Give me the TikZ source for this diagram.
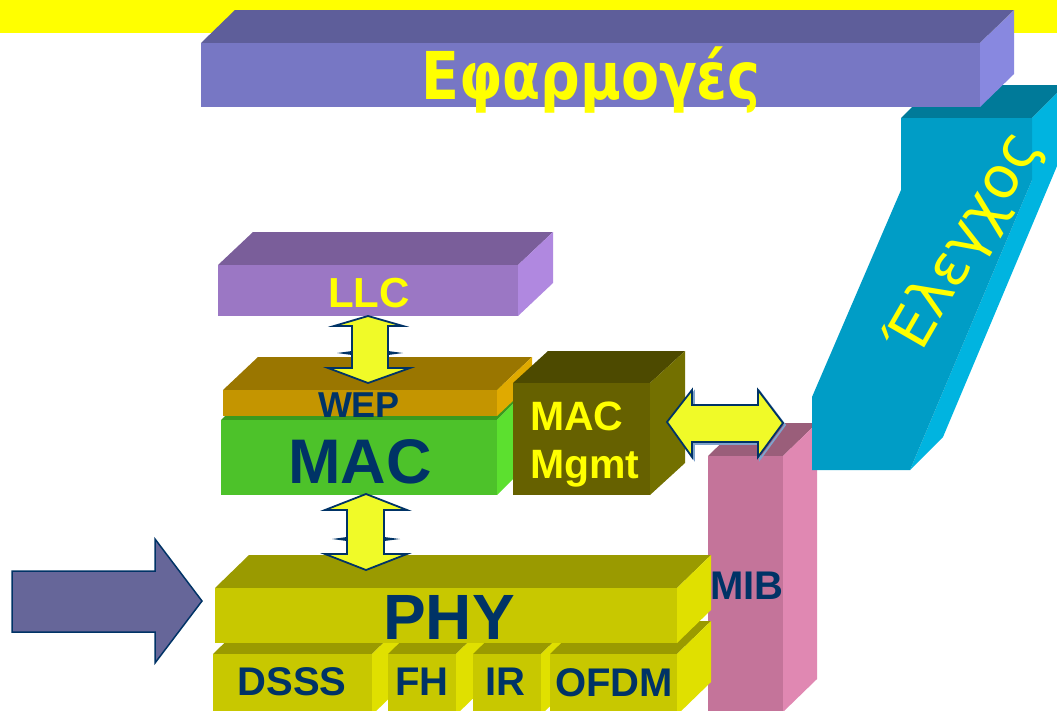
\documentclass[tikz,border=0pt]{standalone}
\usepackage{fontspec}
\setmainfont{Liberation Sans}
\newfontfamily\grfont{DejaVu Sans}
\definecolor{navy}{HTML}{003366}
\definecolor{arrfill}{HTML}{F0FA28}
\definecolor{bandyellow}{HTML}{FFFF00}
\definecolor{mibF}{HTML}{C4749A}\definecolor{mibT}{HTML}{9A5E7A}\definecolor{mibR}{HTML}{E088B2}
\definecolor{elT}{HTML}{007A99}\definecolor{elR}{HTML}{00B4E0}\definecolor{elF}{HTML}{009DC6}
\definecolor{efF}{HTML}{7777C4}\definecolor{efT}{HTML}{5E5E9A}\definecolor{efR}{HTML}{8888E0}
\definecolor{llcF}{HTML}{9B77C4}\definecolor{llcT}{HTML}{7A5E9A}\definecolor{llcR}{HTML}{B088E0}
\definecolor{macF}{HTML}{4DC22A}\definecolor{macT}{HTML}{3A9A1E}\definecolor{macR}{HTML}{5CE02F}
\definecolor{wepF}{HTML}{C49500}\definecolor{wepT}{HTML}{9A7600}\definecolor{wepR}{HTML}{E0AA00}
\definecolor{mgF}{HTML}{666100}\definecolor{mgT}{HTML}{4D4A00}\definecolor{mgR}{HTML}{737000}
\definecolor{phF}{HTML}{C8C800}\definecolor{phT}{HTML}{9A9A00}\definecolor{phR}{HTML}{E0E000}
\definecolor{inarr}{HTML}{666699}
\definecolor{shad}{HTML}{7FA3CC}
\newcommand\fsz[1]{\fontsize{#1}{#1}\selectfont}
% x1 y1 x2 y2 dx dy front top right
\newcommand\prism[9]{%
  \fill[#8] (#1,#2) -- (#1+#5,#2-#6) -- (#3+#5,#2-#6) -- (#3,#2) -- cycle;
  \fill[#9] (#3,#2) -- (#3+#5,#2-#6) -- (#3+#5,#4-#6) -- (#3,#4) -- cycle;
  \fill[#7] (#1,#2) rectangle (#3,#4);
}
\tikzset{
  navylbl/.style={font=\bfseries, text=navy, inner sep=0pt, anchor=base},
  yellbl/.style={font=\bfseries, text=bandyellow, inner sep=0pt, anchor=base},
  blockarrow/.style={fill=arrfill, draw=navy, line width=1.8pt, line join=miter},
  notch/.style={fill=navy},
}
\begin{document}
\begin{tikzpicture}[x=1pt,y=-1pt]
\useasboundingbox (0,0) rectangle (1057,710);
% yellow band
\fill[bandyellow] (0,0) rectangle (1057,33);
% MIB pillar
\prism{708}{456}{783}{712}{34}{33}{mibF}{mibT}{mibR}
% Elegxos slab
\fill[elT] (901,118) -- (934,85) -- (1065,85) -- (1032,118) -- cycle;
\fill[elR] (1032,118) -- (1065,85) -- (1065,147) -- (943,437) -- (910,470) -- (1032,180) -- cycle;
\fill[elF] (901,118) -- (1032,118) -- (1032,180) -- (910,470) -- (812,470) -- (812,397) -- (901,190) -- cycle;
\node[font=\grfont, text=bandyellow, inner sep=0pt, rotate=60] (elegxos) at (965,243) {\fsz{58}Έλεγχος};
% Efarmoges
\prism{201}{43}{980}{107}{34}{33}{efF}{efT}{efR}
\node[font=\grfont\bfseries, text=bandyellow, inner sep=0pt, anchor=base] (efarm) at (591,99) {\fsz{66}\scalebox{0.84}[1]{Εφαρμογές}};
% LLC
\prism{218}{265}{518}{316}{35}{33}{llcF}{llcT}{llcR}
\node[yellbl] (llc) at (369,307) {\fsz{42}LLC};
% MAC
\prism{221}{420}{497}{495}{35}{35}{macF}{macT}{macR}
% WEP
\prism{223}{390}{497}{416}{35}{33}{wepF}{wepT}{wepR}
\node[navylbl] (wep) at (359,417) {\fsz{36}WEP};
\node[navylbl] (mac) at (360,483) {\fsz{63}MAC};
% MAC Mgmt
\prism{513}{383}{650}{495}{35}{32}{mgF}{mgT}{mgR}
\node[yellbl, anchor=base west] (mgmt1) at (530,430) {\fsz{41}MAC};
\node[yellbl, anchor=base west] (mgmt2) at (530,478) {\fsz{41}Mgmt};
% sub blocks
\prism{213}{654}{372}{715}{34}{33}{phF}{phT}{phR}
\prism{388}{654}{456}{715}{34}{33}{phF}{phT}{phR}
\prism{473}{654}{541}{715}{34}{33}{phF}{phT}{phR}
\prism{550}{654}{677}{715}{34}{33}{phF}{phT}{phR}
\node[navylbl] (dsss) at (292,695) {\fsz{40}DSSS};
\node[navylbl] (fh) at (422,695) {\fsz{40}FH};
\node[navylbl] (ir) at (505,695) {\fsz{40}IR};
\node[navylbl] (ofdm) at (614,696) {\fsz{40}OFDM};
% PHY
\prism{215}{588}{677}{643}{34}{33}{phF}{phT}{phR}
\node[navylbl] (phy) at (449,639) {\fsz{64}PHY};
\node[navylbl] (mib) at (747,599) {\fsz{40}MIB};
% big input arrow
\fill[inarr, draw=navy, line width=1.5pt, line join=miter]
  (12,571) -- (155,571) -- (155,539) -- (202,601) -- (155,663) -- (155,632) -- (12,632) -- cycle;
% LLC <-> MAC arrow
\draw[blockarrow] (368,316) -- (403,326) -- (388,326) -- (388,368) -- (410,368) -- (368,383)
  -- (328,368) -- (352,368) -- (352,326) -- (334,326) -- cycle;
\fill[notch] (352,351) -- (337,353) -- (352,355) -- cycle;
\fill[notch] (388,351) -- (403,353) -- (388,355) -- cycle;
% MAC <-> PHY arrow
\draw[blockarrow] (366,494) -- (407,510) -- (384,510) -- (384,554) -- (407,554) -- (366,570)
  -- (325,554) -- (347,554) -- (347,510) -- (325,510) -- cycle;
\fill[notch] (347,537) -- (332,539) -- (347,541) -- cycle;
\fill[notch] (384,537) -- (400,539) -- (384,541) -- cycle;
% Mgmt <-> MIB arrow
\draw[shad, line width=1.8pt, line join=miter] (669,424) -- (694,392) -- (694,407) -- (760,407) -- (760,392) -- (785,425) -- (760,459) -- (760,444) -- (694,444) -- (694,459) -- cycle;
\draw[blockarrow] (667,422) -- (692,390) -- (692,405) -- (758,405) -- (758,390) -- (783,423)
  -- (758,457) -- (758,442) -- (692,442) -- (692,457) -- cycle;
\end{tikzpicture}
\end{document}
